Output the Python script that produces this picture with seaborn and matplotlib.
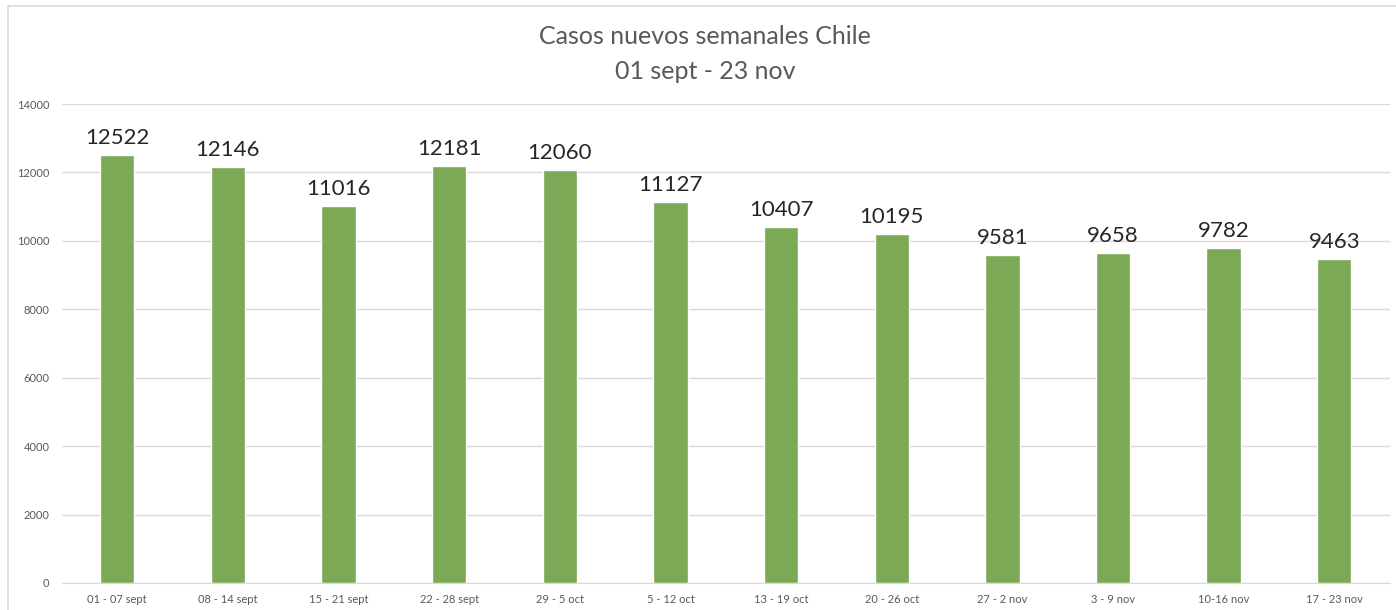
import matplotlib
matplotlib.use("Agg")
import pandas as pd
import seaborn as sns
from matplotlib import pyplot as plt
from matplotlib.lines import Line2D

# semanas y casos nuevos
semanas = [
    "01 - 07 sept", "08 - 14 sept", "15 - 21 sept", "22 - 28 sept",
    "29 - 5 oct", "5 - 12 oct", "13 - 19 oct", "20 - 26 oct",
    "27 - 2 nov", "3 - 9 nov", "10-16 nov", "17 - 23 nov",
]
casos = [12522, 12146, 11016, 12181, 12060, 11127, 10407, 10195, 9581, 9658, 9782, 9463]
y_ticks = [0, 2000, 4000, 6000, 8000, 10000, 12000, 14000]

df = pd.DataFrame({"semana": semanas, "casos": casos})

sns.set_style("white")
plt.rcParams["font.family"] = ["Lato", "DejaVu Sans"]

fig = plt.figure(figsize=(13.96, 6.10), dpi=100)
ax = fig.add_axes([0.0444, 0.0443, 0.951, 0.7852])

sns.barplot(data=df, x="semana", y="casos", color="#7BA955", width=0.31,
            saturation=1, ax=ax)

ax.set_ylim(0, 14000)
ax.set_yticks(y_ticks)
ax.set_yticklabels([str(t) for t in y_ticks])
ax.set_xlim(-0.5, len(semanas) - 0.5)
ax.yaxis.grid(True, color="#d9d9d9", linewidth=1)
ax.set_axisbelow(True)
for s in ["top", "right", "left"]:
    ax.spines[s].set_visible(False)
ax.spines["bottom"].set_color("#d9d9d9")
ax.tick_params(axis="both", length=0, labelsize=8, colors="#595959", pad=8)
ax.tick_params(axis="y", pad=9)
ax.set_xlabel("")
ax.set_ylabel("")

ax.bar_label(ax.containers[0], labels=[str(c) for c in casos],
             padding=5, fontsize=16, color="#262626")

fig.text(0.505, 0.94, "Casos nuevos semanales Chile", ha="center", va="center",
         fontsize=18, color="#595959")
fig.text(0.505, 0.882, "01 sept - 23 nov", ha="center", va="center",
         fontsize=18, color="#595959")

# marco del gráfico
fig.add_artist(Line2D([8 / 1396, 8 / 1396], [0, 1 - 6 / 610], transform=fig.transFigure,
                      color="#d9d9d9", linewidth=1.2))
fig.add_artist(Line2D([8 / 1396, 1], [1 - 6 / 610, 1 - 6 / 610], transform=fig.transFigure,
                      color="#d9d9d9", linewidth=1.2))

fig.savefig("out.png", dpi=100)
